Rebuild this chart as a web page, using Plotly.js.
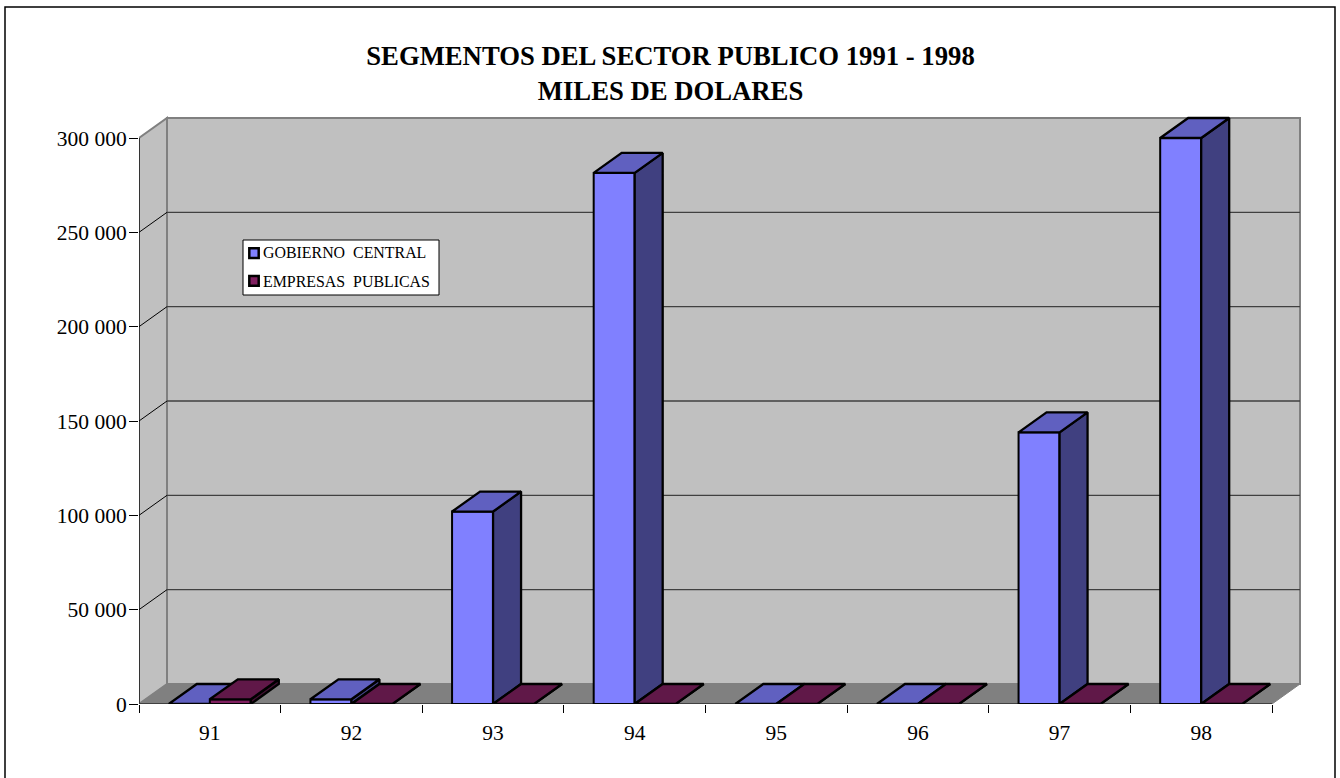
<!DOCTYPE html>
<html><head><meta charset="utf-8">
<script src="https://cdn.plot.ly/plotly-3.0.1.min.js"></script>
<style>html,body{margin:0;padding:0;background:#fff}</style></head>
<body><div id="chart" style="width:1340px;height:778px"></div>
<script>
const categories = ['91','92','93','94','95','96','97','98'];
const gobiernoCentral = [0, 2500, 102000, 281500, 0, 0, 144000, 300000];
const empresasPublicas = [2500, 0, 0, 0, 0, 0, 0, 0];
const yTickVals = [0, 50000, 100000, 150000, 200000, 250000, 300000];
const yTickText = ['0','50 000','100 000','150 000','200 000','250 000','300 000'];
const titleText = 'SEGMENTOS DEL SECTOR PUBLICO 1991 - 1998<br>MILES DE DOLARES';

const serif = '"Liberation Serif","Times New Roman",serif';
const W=1340,H=778, L=139, R=1310, T=110, B=704;
const unitX=(1272-139)/8, unitY=(704-138)/300000;
const xMax=(R-L)/unitX, yMax=(B-T)/unitY;
const dx=28/unitX, dy=20/unitY, barW=41/unitX;
const n=categories.length, yTop=yTickVals[yTickVals.length-1];
const centers=categories.map((_,i)=>i+0.5);
const px=x=>(x-L)/(R-L), py=y=>(B-y)/(B-T);

function faces(vals, offset){
  const sx=[],sy=[],tx=[],ty=[];
  vals.forEach((v,i)=>{
    const a=centers[i]+offset, b=a+barW;
    sx.push(b,b+dx,b+dx,b,b,null); sy.push(0,dy,v+dy,v,0,null);
    tx.push(a,b,b+dx,a+dx,a,null); ty.push(v,v,v+dy,v+dy,v,null);
  });
  return {sx,sy,tx,ty};
}
function series(name,vals,offset,cols,xa,ya){
  const f=faces(vals,offset), ln={color:'#000',width:2.3};
  const poly=(x,y,fc)=>({type:'scatter',mode:'lines',x,y,xaxis:xa,yaxis:ya,fill:'toself',fillcolor:fc,
    line:ln,cliponaxis:false,showlegend:false,hoverinfo:'skip'});
  return [
    {type:'bar',name,x:centers,y:vals,width:barW,offset,xaxis:xa,yaxis:ya,cliponaxis:false,
      marker:{color:cols[0],line:{color:'#000',width:2}},showlegend:false},
    poly(f.sx,f.sy,cols[1]), poly(f.tx,f.ty,cols[2])
  ];
}
const blue=['#8080FF','#404080','#6060C0'], maroon=['#802060','#401030','#601848'];
const data=[...series('GOBIERNO CENTRAL',gobiernoCentral,-barW,blue,'x','y'),
            ...series('EMPRESAS PUBLICAS',empresasPublicas,0,maroon,'x2','y2')];

const D=(x,y)=>x+','+y;
const shapes=[
 {type:'path',xref:'x',yref:'y',layer:'below',fillcolor:'#C0C0C0',line:{color:'#808080',width:2},
  path:`M${D(dx,dy)}L${D(n+dx,dy)}L${D(n+dx,yTop+dy)}L${D(dx,yTop+dy)}Z`},
 {type:'path',xref:'x',yref:'y',layer:'below',fillcolor:'#C0C0C0',line:{color:'#808080',width:2},
  path:`M${D(0,0)}L${D(dx,dy)}L${D(dx,yTop+dy)}L${D(0,yTop)}Z`},
 {type:'path',xref:'x',yref:'y',layer:'below',fillcolor:'#808080',line:{color:'#808080',width:1},
  path:`M${D(0,0)}L${D(n,0)}L${D(n+dx,dy)}L${D(dx,dy)}Z`},
 {type:'line',xref:'x',yref:'y',layer:'below',x0:0,x1:n,y0:0,y1:0,line:{color:'#000',width:1.2}},
 {type:'line',xref:'x',yref:'y',layer:'below',x0:0,x1:0,y0:0,y1:yTop,line:{color:'#333',width:2}}
];
yTickVals.slice(1,-1).forEach(v=>{
  shapes.push({type:'line',xref:'x',yref:'y',layer:'below',x0:0,x1:dx,y0:v,y1:v+dy,line:{color:'#000',width:1}});
  shapes.push({type:'line',xref:'x',yref:'y',layer:'below',x0:dx,x1:n+dx,y0:v+dy,y1:v+dy,line:{color:'#404040',width:1.3}});
});
// chart frame
shapes.push({type:'path',xref:'paper',yref:'paper',layer:'above',fillcolor:'rgba(0,0,0,0)',line:{color:'#000',width:1.5},
  path:`M${px(5)},${py(790)}L${px(5)},${py(7)}L${px(1335)},${py(7)}L${px(1335)},${py(790)}`});
// legend box and swatches
const rect=(x0,y0,x1,y1,fc,w)=>({type:'rect',xref:'paper',yref:'paper',layer:'above',
  x0:px(x0),x1:px(x1),y0:py(y1),y1:py(y0),fillcolor:fc,line:{color:'#000',width:w}});
shapes.push(rect(243,240,439,295,'#fff',1));
shapes.push(rect(249.3,248.3,258.7,258,blue[0],2.5));
shapes.push(rect(249.3,276,258.7,285.7,maroon[0],2.5));
const legendText=(t,y)=>({xref:'paper',yref:'paper',x:px(262),y:py(y),xanchor:'left',yanchor:'middle',showarrow:false,
  text:t,font:{family:serif,size:15.9,color:'#000'},borderpad:0});

const baseAxis={fixedrange:true,showgrid:false,zeroline:false,showline:false};
const layout={
 width:W,height:H,autosize:false,paper_bgcolor:'#fff',plot_bgcolor:'rgba(0,0,0,0)',
 margin:{l:L,r:W-R,t:T,b:H-B,pad:0},showlegend:false,hovermode:false,
 title:{text:titleText,x:670.5/W,xanchor:'center',y:1-65/H,yanchor:'top',font:{family:serif,size:26.7,color:'#000',weight:'bold'}},
 xaxis:{...baseAxis,range:[0,xMax],tickmode:'array',tickvals:centers,ticktext:categories,ticks:'',ticklen:0,
        tickfont:{family:serif,size:21.5,color:'#000'},automargin:false,ticklabelstandoff:13},
 yaxis:{...baseAxis,range:[0,yMax],tickmode:'array',tickvals:yTickVals,ticktext:yTickText,ticks:'outside',ticklen:9,
        tickcolor:'#000',tickwidth:1,tickfont:{family:serif,size:21.5,color:'#000'},automargin:false,ticklabelstandoff:-2},
 xaxis2:{...baseAxis,overlaying:'x',anchor:'y',range:[0,xMax],tickmode:'array',
        tickvals:[0,1,2,3,4,5,6,7,8],showticklabels:false,ticks:'outside',ticklen:8,tickcolor:'#000',tickwidth:1},
 yaxis2:{...baseAxis,overlaying:'y',anchor:'x',range:[0,yMax],showticklabels:false,ticks:''},
 shapes,
 annotations:[legendText('GOBIERNO\u00a0 CENTRAL',253),legendText('EMPRESAS\u00a0 PUBLICAS',281)]
};
Plotly.newPlot('chart',data,layout,{displayModeBar:false,staticPlot:true});
</script></body></html>
